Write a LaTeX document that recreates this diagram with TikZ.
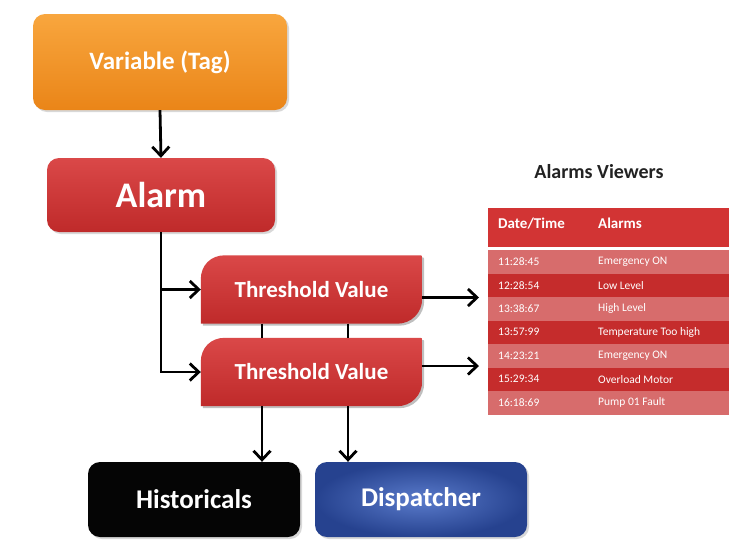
\documentclass[tikz,border=0pt]{standalone}
\usepackage{fontspec}
\setmainfont{Carlito}
\usetikzlibrary{arrows.meta,calc,shadows}
\pgfdeclarelayer{bg}
\pgfsetlayers{bg,main}
\definecolor{orangeT}{HTML}{F8A63E}
\definecolor{orangeB}{HTML}{EA8518}
\definecolor{redT}{HTML}{DA4848}
\definecolor{redB}{HTML}{BF2A2A}
\definecolor{blueIn}{HTML}{5A7BCB}
\definecolor{blueOut}{HTML}{26428F}
\definecolor{hdr}{HTML}{D23434}
\definecolor{rowL}{HTML}{D76C6C}
\definecolor{rowD}{HTML}{C52C2C}
\definecolor{ttl}{HTML}{222222}
\newcommand{\tvshape}[2][]{%
  \path[#1] (#2.south west) -- ($(#2.north west)+(0,24)$)
   .. controls ($(#2.north west)+(0,10)$) and ($(#2.north west)+(10,0)$) .. ($(#2.north west)+(24,0)$)
   -- ($(#2.north east)+(-4,0)$) .. controls (#2.north east) .. ($(#2.north east)+(0,4)$)
   -- ($(#2.south east)+(0,-25)$)
   .. controls ($(#2.south east)+(0,-11)$) and ($(#2.south east)+(-11,0)$) .. ($(#2.south east)+(-25,0)$) -- cycle;}
\begin{document}
\begin{tikzpicture}[x=1pt,y=-1pt,
  box/.style={rounded corners=12pt, text=white, inner sep=0pt,
    drop shadow={opacity=0.3, shadow xshift=2pt, shadow yshift=-2pt}},
  tv/.style={minimum width=221pt, minimum height=68pt, inner sep=0pt, text=white,
    font=\fontsize{23}{26}\selectfont\bfseries},
  ln/.style={line width=2.8pt, black},
  arr/.style={ln, -{Straight Barb[length=9pt,width=17pt]}},
  cell/.style={anchor=west, text=white, inner sep=0pt, font=\fontsize{11.5}{13}\selectfont},
  hcell/.style={anchor=base west, text=white, inner sep=0pt, font=\fontsize{15}{17}\selectfont\bfseries}]
\useasboundingbox (0,0) rectangle (733,558);

% main boxes
\node[box, minimum width=254pt, minimum height=96pt, top color=orangeT, bottom color=orangeB,
  font=\fontsize{25}{28}\selectfont\bfseries] (var) at (160,62) {Variable (Tag)};
\node[box, minimum width=228pt, minimum height=74pt, top color=redT, bottom color=redB,
  font=\fontsize{36}{40}\selectfont\bfseries] (alarm) at (161,195) {Alarm};
\node[box, minimum width=212pt, minimum height=75pt, fill=black!98,
  font=\fontsize{27}{30}\selectfont\bfseries] (hist) at (194,499.5) {Historicals};
\node[box, minimum width=212pt, minimum height=75pt, shading=radial, inner color=blueIn, outer color=blueOut,
  font=\fontsize{27}{30}\selectfont\bfseries] (disp) at (421,499.5) {Dispatcher};

% threshold nodes
\node[tv] (t1) at (311.5,289.5) {Threshold Value};
\node[tv] (t2) at (311.5,372) {Threshold Value};
\begin{pgfonlayer}{bg}
  \fill[white] (0,0) rectangle (733,558);
  \begin{scope}[transform canvas={shift={(2pt,-2pt)}}]
    \tvshape[fill=black, opacity=0.25]{t1}
    \tvshape[fill=black, opacity=0.25]{t2}
  \end{scope}
  \tvshape[top color=redT, bottom color=redB]{t1}
  \tvshape[top color=redT, bottom color=redB]{t2}
\end{pgfonlayer}

% table
\node[anchor=north west, minimum width=241pt, minimum height=207pt, inner sep=0pt] (tab) at (488,208) {};
\node[anchor=base, text=ttl, inner sep=0pt, font=\fontsize{20}{24}\selectfont\bfseries] (title) at (599,178) {Alarms Viewers};
\fill[hdr] (tab.north west) rectangle (729,247);
\fill[white] (488,247) rectangle (729,250);
\node[hcell] (hdate) at (498,228) {Date/Time};
\node[hcell] (halarm) at (598,228) {Alarms};
\foreach \i/\t/\a in {1/11:28:45/Emergency ON, 2/12:28:54/Low Level, 3/13:38:67/High Level,
  4/13:57:99/Temperature Too high, 5/14:23:21/Emergency ON, 6/15:29:34/Overload Motor, 7/16:18:69/Pump 01 Fault}{
  \pgfmathsetmacro{\ya}{250+(\i-1)*23.5}
  \pgfmathsetmacro{\yb}{250+\i*23.5}
  \pgfmathsetmacro{\yc}{250+(\i-0.5)*23.5}
  \ifodd\i \fill[rowL] (488,\ya) rectangle (729,\yb); \else \fill[rowD] (488,\ya) rectangle (729,\yb); \fi
  \node[cell] (rt\i) at (498,\yc) {\t};
  \node[cell] (ra\i) at (598,\yc) {\a};
}

% connectors
\draw[arr] (var.south) -- (alarm.north);
\draw[arr] (alarm.south) |- (t2.west);
\draw[arr] (alarm.south |- t1.west) -- (t1.west);
\draw[ln] (262,0 |- t1.south) -- (262,0 |- t2.north);
\draw[ln] (348,0 |- t1.south) -- (348,0 |- t2.north);
\draw[arr] (262,0 |- t2.south) -- (262,0 |- hist.north);
\draw[arr] (348,0 |- t2.south) -- (348,0 |- disp.north);
\coordinate (a1) at ($(t1.east)+(0,8)$);
\coordinate (a2) at ($(t2.east)+(0,-6)$);
\draw[arr, shorten >=9pt] (a1) -- (a1 -| tab.west);
\draw[arr, shorten >=9pt] (a2) -- (a2 -| tab.west);
\end{tikzpicture}
\end{document}
